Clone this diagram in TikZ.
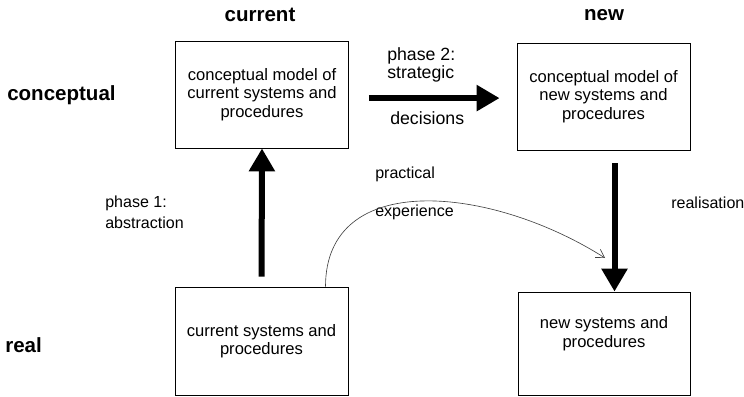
\documentclass[tikz,border=0pt]{standalone}
\usepackage{fontspec}
\setmainfont{Liberation Sans}
\usetikzlibrary{positioning}
\usetikzlibrary{arrows.meta}

\tikzset{
  modelbox/.style={draw, line width=0.6pt, align=center, inner sep=0pt,
    font=\fontsize{11.8}{13}\selectfont},
  heading/.style={inner sep=0pt, font=\fontsize{14.6}{16}\selectfont\bfseries},
  note/.style={inner sep=0pt, align=left, anchor=west, font=\fontsize{11.4}{15}\selectfont},
  bigarrow/.style={line width=1.5mm, -{Triangle[length=5.75mm,width=6.25mm]}},
  thinarrow/.style={line width=0.45pt, black!75, -{Straight Barb[length=2mm,width=2.4mm]}}
}

\begin{document}
\begin{tikzpicture}[x=0.25mm,y=0.25mm]
\useasboundingbox (0,0) rectangle (744,-397);

% column and row headings
\node[heading] (colcur) at (260,-15) {current};
\node[heading] (colnew) at (604,-15) {new};
\node[heading, anchor=west] (rowcon) at (7,-95) {conceptual};
\node[heading, anchor=west] (rowreal) at (5,-345) {real};

% the four boxes
\node[modelbox, minimum width=43.25mm, minimum height=26.75mm] (cmcur) at (262,-94.5)
  {conceptual model of\\current systems and\\procedures};
\node[modelbox, minimum width=43.25mm, minimum height=26.75mm] (cmnew) at (603.5,-96.5)
  {conceptual model of\\new systems and\\procedures};
\node[modelbox, minimum width=43.25mm, minimum height=27mm] (realcur) at (261.5,-341)
  {current systems and\\procedures};
\node[modelbox, minimum width=43mm, minimum height=25.75mm, text depth=5.7mm] (realnew) at (604,-343.5)
  {new systems and\\procedures};

% labels
\node[note] (phase1) at (105,-212) {phase 1:\\abstraction};
\node[note, font=\fontsize{12.6}{10.7}\selectfont] (phase2) at (387,-65) {phase 2:\\strategic};
\node[note, font=\fontsize{12.6}{14}\selectfont] (decis) at (390,-118) {decisions};
\node[note] (pract) at (375,-174) {practical};
\node[note] (exper) at (375,-212) {experience};
\node[note] (realis) at (671,-203) {realisation};

% arrows
\draw[bigarrow, shorten <=2.5mm] (realcur.north) -- (cmcur.south);
\draw[bigarrow, shorten <=5mm, shorten >=4.25mm] ([yshift=-0.9mm]cmcur.east) -- ([yshift=-0.9mm]cmcur.east -| cmnew.west);
\draw[bigarrow, shorten <=3.25mm] ([xshift=2.75mm]cmnew.south) -- ([xshift=2.75mm]cmnew.south |- realnew.north);

\coordinate (expend) at (605,-258);
\draw[thinarrow] ([xshift=16mm]realcur.north) .. controls +(0,117) and +(-115,73) .. (expend);
\end{tikzpicture}
\end{document}
